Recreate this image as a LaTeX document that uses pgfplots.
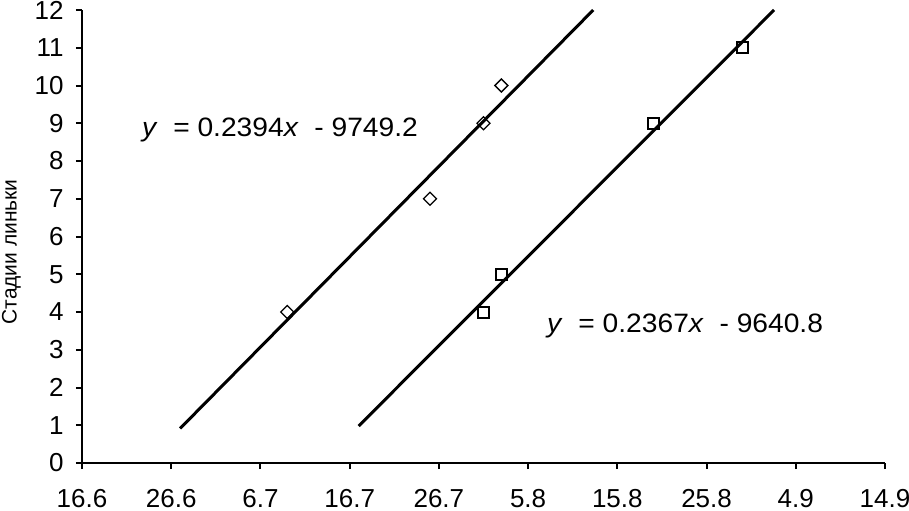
\documentclass[border=0pt]{standalone}
\usepackage{fontspec}
\setmainfont{Liberation Sans}
\usepackage{graphicx}
\usepackage{pgfplots}
\pgfplotsset{compat=1.18}
\begin{document}
\begin{tikzpicture}
% рамка страницы: 1 px оригинала = 0.5pt
\useasboundingbox (-41pt,-23.5pt) rectangle (413.5pt,231.5pt);
\begin{axis}[
    at={(0,0)}, anchor=south west,
    scale only axis,
    width=401.5pt, height=226.5pt,
    xmin=0, xmax=90, ymin=0, ymax=12,
    axis x line=bottom, axis y line=left,
    axis line style={-, line width=1pt},
    xtick={0,10,...,90},
    xticklabels={16.6,26.6,6.7,16.7,26.7,5.8,15.8,25.8,4.9,14.9},
    ytick={0,1,...,12},
    tick align=outside,
    major tick length=3pt,
    tick style={black, line width=1pt},
    ticklabel style={font=\fontsize{13}{15}\selectfont},
    xticklabel style={yshift=-6.5pt},
    yticklabel style={xshift=-2.7pt},
    /pgf/number format/assume math mode=true,
    ylabel={Стадии линьки},
    ylabel style={font=\fontsize{10.5}{12}\selectfont, at={(rel axis cs:-0.088,0.466)}, anchor=center},
    clip=false,
]
% точки (дни от 16.6)
\addplot[only marks, mark=square, mark size=2.3pt,
    mark options={rotate=45, line width=0.65pt, fill=white}]
    coordinates {(23,4) (39,7) (45,9) (47,10)};
\addplot[only marks, mark=square, mark size=2.75pt,
    mark options={line width=1pt, fill=white}]
    coordinates {(45,4) (47,5) (64,9) (74,11)};
% линии тренда
\addplot[line width=1.5pt, no marks] coordinates {(11,0.916) (57.30,12)};
\addplot[line width=1.5pt, no marks] coordinates {(31,0.978) (77.57,12)};
\node[anchor=base west, inner sep=0pt, font=\fontsize{13.3}{15}\selectfont]
    at (axis cs:6.69,8.66) {\scalebox{1.06}[1]{\textit{y}\ \ = 0.2394\textit{x}\ \ - 9749.2}};
\node[anchor=base west, inner sep=0pt, font=\fontsize{13.3}{15}\selectfont]
    at (axis cs:52.1,3.45) {\scalebox{1.06}[1]{\textit{y}\ \ = 0.2367\textit{x}\ \ - 9640.8}};
\end{axis}
\end{tikzpicture}
\end{document}
